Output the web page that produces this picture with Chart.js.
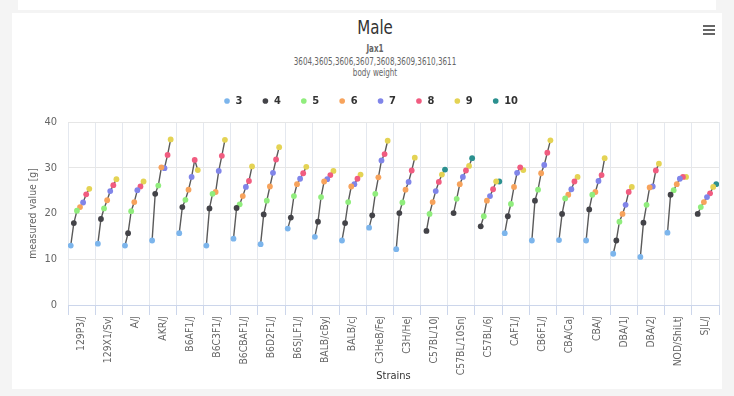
<!DOCTYPE html>
<html lang="en">
<head>
    <meta charset="UTF-8">
    <title>Male - body weight</title>
    <script src="https://cdn.jsdelivr.net/npm/chart.js"></script>
    <style>
        body {
            margin: 0;
            background: #f4f4f4;
            font-family: 'DejaVu Sans Condensed', 'DejaVu Sans', sans-serif;
            width: 734px;
            height: 396px;
            overflow: hidden;
            position: relative;
        }
        .card { position: absolute; background: #fff; }
        .head {
            position: absolute;
            left: 175px;
            width: 400px;
            text-align: center;
            color: #666;
            font-size: 10px;
            line-height: 12px;
            transform: scaleX(0.8);
        }
        .menu {
            position: absolute;
            left: 703px;
            width: 12px;
            height: 2px;
            background: #666;
        }
        canvas { position: absolute; left: 0; top: 0; }
    </style>
</head>
<body>
    <div class="card" style="left:18px; top:0; width:698px; height:10px;"></div>
    <div class="card" style="left:12px; top:13px; width:710px; height:376px;"></div>

    <div class="head" style="top:17px; font-size:19px; line-height:20px; color:#333; transform:scaleX(0.88);">Male</div>
    <div class="head" style="top:43px; font-weight:bold;">Jax1</div>
    <div class="head" style="top:56px;">3604,3605,3606,3607,3608,3609,3610,3611</div>
    <div class="head" style="top:67px;">body weight</div>

    <div class="menu" style="top:25px;"></div>
    <div class="menu" style="top:29px;"></div>
    <div class="menu" style="top:33px;"></div>

    <canvas id="chart" width="734" height="396"></canvas>

    <script>
        // strains on the x axis
        const strains = ['129P3/J', '129X1/SvJ', 'A/J', 'AKR/J', 'B6AF1/J', 'B6C3F1/J', 'B6CBAF1/J',
            'B6D2F1/J', 'B6SJLF1/J', 'BALB/cByJ', 'BALB/cJ', 'C3HeB/FeJ', 'C3H/HeJ', 'C57BL/10J',
            'C57BL/10SnJ', 'C57BL/6J', 'CAF1/J', 'CB6F1/J', 'CBA/CaJ', 'CBA/J', 'DBA/1J', 'DBA/2J',
            'NOD/ShiLtJ', 'SJL/J'];

        const weeks = [3, 4, 5, 6, 7, 8, 9, 10];

        // mean body weight [g] per week, one value per strain
        const wk3 = [13.0, 13.4, 13.0, 14.1, 15.7, 13.0, 14.5, 13.3, 16.7, 14.9, 14.1, 16.9, 12.2, null, null, null, 15.7, 14.1, 14.2, 14.1, 11.2, 10.5, 15.8, null];
        const wk4 = [17.9, 18.8, 15.7, 24.3, 21.4, 21.1, 21.2, 19.8, 19.1, 18.2, 17.9, 19.6, 20.1, 16.2, 20.1, 17.2, 19.4, 22.8, 19.9, 20.9, 14.1, 18.0, 24.1, 19.9];
        const wk5 = [20.6, 21.1, 20.5, 26.1, 23.0, 24.3, 22.0, 22.8, 23.8, 23.6, 22.5, 24.3, 22.4, 19.9, 23.2, 19.4, 22.1, 25.2, 23.3, 24.1, 18.2, 21.9, 25.1, 21.4];
        const wk6 = [21.4, 22.9, 22.5, 30.1, 25.2, 24.7, 23.8, 25.9, 26.4, 27.0, 25.9, 27.9, 25.2, 22.5, 26.4, 22.8, 25.8, 28.8, 24.1, 24.7, 19.9, 25.7, 26.4, 22.5];
        const wk7 = [22.4, 24.9, 25.1, 29.9, 28.0, 29.3, 25.8, 28.9, 27.6, 27.5, 26.4, 31.6, 26.9, 24.9, 28.0, 23.8, 28.9, 30.6, 25.3, 27.1, 21.9, 25.9, 27.6, 23.6];
        const wk8 = [24.2, 26.2, 25.9, 32.8, 31.7, 32.6, 27.1, 31.8, 28.8, 28.4, 27.6, 33.0, 29.4, 26.9, 29.4, 25.3, 30.1, 33.3, 27.0, 28.4, 24.7, 29.4, 28.0, 24.4];
        const wk9 = [25.4, 27.5, 27.0, 36.2, 29.5, 36.1, 30.3, 34.5, 30.2, 29.3, 28.5, 35.9, 32.2, 28.5, 30.4, 27.0, 29.5, 36.0, 28.0, 32.1, 25.8, 30.9, 28.0, 25.8];
        const wk10 = [null, null, null, null, null, null, null, null, null, null, null, null, null, 29.6, 32.1, 27.0, null, null, null, null, null, null, null, 26.4];

        const weekValues = [wk3, wk4, wk5, wk6, wk7, wk8, wk9, wk10];
        const weekColors = ['#7cb5ec', '#434348', '#90ed7d', '#f7a35c', '#8085e9', '#f15c80', '#e4d354', '#2b908f'];

        // horizontal spread of the weeks inside one strain column
        const dodge = 0.114;
        const xPos = (i, w) => i + (w - 6.5) * dodge;

        Chart.defaults.font.family = "'DejaVu Sans Condensed', 'DejaVu Sans', sans-serif";
        Chart.defaults.color = '#666';

        let datasets = weeks.map((w, k) => ({
            type: 'scatter',
            label: String(w),
            xAxisID: 'xv',
            data: strains.map((s, i) => ({ x: xPos(i, w), y: weekValues[k][i] })).filter(p => p.y !== null),
            backgroundColor: weekColors[k],
            borderColor: weekColors[k],
            borderWidth: 0,
            pointRadius: 2.9,
            order: 1
        }));

        // one grey line through the weeks of each strain
        let linePts = [];
        strains.forEach((s, i) => {
            weeks.forEach((w, k) => {
                if (weekValues[k][i] !== null) linePts.push({ x: xPos(i, w), y: weekValues[k][i] });
            });
            linePts.push({ x: i + 0.5, y: null });
        });
        datasets.push({
            type: 'line',
            label: 'trend',
            xAxisID: 'xv',
            data: linePts,
            borderColor: '#5a5a5a',
            borderWidth: 1.4,
            pointRadius: 0,
            spanGaps: false,
            order: 5
        });

        new Chart(document.getElementById('chart'), {
            data: { datasets: datasets },
            options: {
                responsive: false,
                animation: false,
                layout: { padding: { top: 75.5, left: 23, right: 15, bottom: 6 } },
                plugins: {
                    tooltip: { enabled: false },
                    legend: {
                        position: 'top',
                        labels: {
                            filter: item => item.text !== 'trend',
                            usePointStyle: true,
                            pointStyle: 'circle',
                            boxWidth: 6,
                            boxHeight: 4,
                            padding: 20,
                            color: '#333',
                            font: { size: 11, weight: 'bold' }
                        }
                    }
                },
                scales: {
                    gap: {
                        type: 'linear',
                        position: 'top',
                        ticks: { display: false },
                        grid: { display: false },
                        border: { display: false },
                        afterFit: s => { s.height = 5.5; }
                    },
                    x: {
                        type: 'category',
                        labels: strains,
                        offset: true,
                        grid: { offset: true, color: '#e4e8ef', tickColor: '#ccd6eb', tickLength: 10 },
                        border: { color: '#ccd6eb' },
                        ticks: { minRotation: 90, maxRotation: 90, autoSkip: false, padding: 1, color: '#666', font: { size: 10.3 } },
                        title: { display: true, text: 'Strains', color: '#333', font: { size: 11 }, padding: { top: 0, bottom: 7 } },
                        afterFit: s => { s.height = 85; }
                    },
                    xv: {
                        type: 'linear',
                        min: -0.5,
                        max: 23.5,
                        display: false
                    },
                    y: {
                        min: 0,
                        max: 40,
                        ticks: { stepSize: 10, padding: 11, color: '#666', font: { size: 11 } },
                        grid: { color: '#e6e6e6', drawTicks: false },
                        border: { display: false },
                        title: { display: true, text: 'measured value [g]', color: '#666', font: { size: 10.3 }, padding: { top: 4, bottom: 0 } },
                        afterFit: s => { s.width = 45; }
                    }
                }
            }
        });
    </script>
</body>
</html>
